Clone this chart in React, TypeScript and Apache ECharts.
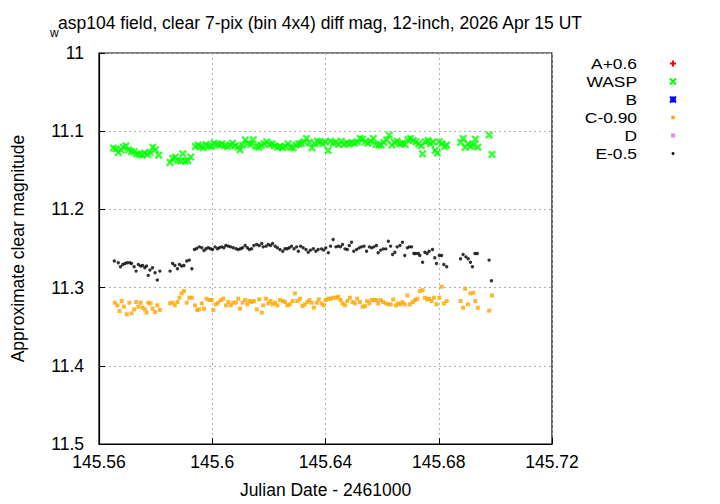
import React, { useEffect, useRef } from "react";
import * as echarts from "echarts";

const TITLE_SUB = "w";
const TITLE_MAIN = "asp104 field, clear 7-pix (bin 4x4) diff mag, 12-inch, 2026 Apr 15 UT";
const X_NAME = "Julian Date - 2461000";
const Y_NAME = "Approximate clear magnitude";
const LEGEND_NAMES = ["A+0.6", "WASP", "B", "C-0.90", "D", "E-0.5"];
const X_MIN = 145.56;
const X_MAX = 145.72;
const X_STEP = 0.04;
const Y_MIN = 11;
const Y_MAX = 11.5;
const Y_STEP = 0.1;

const seriesA: number[][] = [];
const seriesB: number[][] = [];
const seriesD: number[][] = [];

const seriesWASP: number[][] = [
  [145.5651, 11.1216], [145.566, 11.1229], [145.5668, 11.1272], [145.5677, 11.1238], [145.5686, 11.1204],
  [145.5695, 11.1187], [145.5705, 11.1238], [145.5714, 11.1259], [145.5724, 11.1263], [145.5733, 11.1289],
  [145.5742, 11.1297], [145.5752, 11.1306], [145.5761, 11.128], [145.5771, 11.1297], [145.578, 11.1272],
  [145.579, 11.1204], [145.5799, 11.1238], [145.5811, 11.1306],
  [145.5851, 11.1399], [145.586, 11.1348], [145.587, 11.1331], [145.5879, 11.1374], [145.5889, 11.1382],
  [145.5896, 11.1289], [145.5905, 11.1382], [145.5914, 11.1374], [145.5924, 11.1331],
  [145.594, 11.1195], [145.595, 11.1178], [145.5959, 11.1195], [145.5968, 11.1212], [145.5978, 11.117],
  [145.5987, 11.1187], [145.5997, 11.1195], [145.6006, 11.1153], [145.6016, 11.117], [145.6025, 11.1178],
  [145.6034, 11.1161], [145.6044, 11.1187], [145.6053, 11.1195], [145.6063, 11.1178], [145.6072, 11.1153],
  [145.6081, 11.1187], [145.6091, 11.1204], [145.6098, 11.1238], [145.6107, 11.1178], [145.6117, 11.111],
  [145.6126, 11.1153], [145.6136, 11.117], [145.6145, 11.111], [145.6155, 11.1195], [145.6164, 11.1204],
  [145.6173, 11.1178], [145.6183, 11.1161], [145.6192, 11.1136], [145.6202, 11.117], [145.6211, 11.1161],
  [145.622, 11.1187], [145.623, 11.1204], [145.6239, 11.1195], [145.6249, 11.1212], [145.6258, 11.1195],
  [145.6268, 11.1161], [145.6277, 11.1204], [145.6286, 11.1212], [145.6296, 11.1178], [145.6305, 11.1161],
  [145.6315, 11.1153], [145.6324, 11.1136], [145.6333, 11.1093], [145.6343, 11.1144], [145.6352, 11.1212],
  [145.6362, 11.1161], [145.6371, 11.1127], [145.638, 11.1136], [145.639, 11.1161], [145.6399, 11.1136],
  [145.6409, 11.1246], [145.6418, 11.1127], [145.6427, 11.1153], [145.6437, 11.1144], [145.6446, 11.117],
  [145.6456, 11.1127], [145.6465, 11.117], [145.6475, 11.1153], [145.6484, 11.1161], [145.6493, 11.1144],
  [145.6503, 11.1153], [145.6512, 11.1136], [145.6522, 11.1093], [145.6531, 11.1102], [145.6541, 11.1136],
  [145.655, 11.1153], [145.6559, 11.1127], [145.6569, 11.1093], [145.6578, 11.117], [145.6588, 11.1178],
  [145.6597, 11.1178], [145.6606, 11.1144], [145.6616, 11.111], [145.6625, 11.105], [145.6635, 11.1178],
  [145.6644, 11.1144], [145.6653, 11.1127], [145.6663, 11.1161], [145.6672, 11.1153], [145.6682, 11.117],
  [145.6691, 11.111], [145.67, 11.1093], [145.671, 11.1119], [145.6719, 11.1136], [145.6729, 11.1161],
  [145.6738, 11.1187], [145.6743, 11.1289], [145.6752, 11.1136], [145.6762, 11.1119], [145.6771, 11.1161],
  [145.678, 11.1136], [145.6787, 11.1246], [145.6795, 11.128], [145.6802, 11.1136], [145.6811, 11.1161],
  [145.682, 11.1195], [145.6828, 11.1178],
  [145.6877, 11.1144], [145.6886, 11.1093], [145.6893, 11.1204], [145.6903, 11.1161], [145.6912, 11.1195],
  [145.6922, 11.1178], [145.6929, 11.1102], [145.6938, 11.1204],
  [145.6978, 11.105], [145.6988, 11.1297],
];

const seriesC: number[][] = [
  [145.5656, 11.3193], [145.5665, 11.3227], [145.5672, 11.3299], [145.568, 11.3171], [145.5688, 11.3244],
  [145.5698, 11.3341], [145.5707, 11.3193], [145.5715, 11.3329], [145.5724, 11.3278], [145.5731, 11.3184],
  [145.5739, 11.3244], [145.5747, 11.3193], [145.5754, 11.3256], [145.5762, 11.3278], [145.5768, 11.332],
  [145.5774, 11.3193], [145.5782, 11.3201], [145.5789, 11.3269], [145.5798, 11.3312], [145.5806, 11.3227],
  [145.5815, 11.3286],
  [145.5851, 11.3201], [145.586, 11.3193], [145.5868, 11.3227], [145.5877, 11.3184], [145.5884, 11.3129],
  [145.5892, 11.3074], [145.59, 11.3044], [145.591, 11.3193], [145.5919, 11.3129], [145.5928, 11.3129],
  [145.5939, 11.3227], [145.5947, 11.3286], [145.5954, 11.3278], [145.5963, 11.3201], [145.5971, 11.3269],
  [145.598, 11.3142], [145.599, 11.3159], [145.5998, 11.3159], [145.6004, 11.3286], [145.6013, 11.3214],
  [145.6021, 11.3193], [145.603, 11.3159], [145.6039, 11.3142], [145.6048, 11.3227], [145.6057, 11.3184],
  [145.6065, 11.3227], [145.6074, 11.3193], [145.6084, 11.3193], [145.6092, 11.3142], [145.6098, 11.3269],
  [145.6107, 11.3193], [145.6116, 11.3159], [145.6124, 11.3214], [145.6131, 11.3171], [145.6139, 11.3184],
  [145.6147, 11.3171], [145.6157, 11.3278], [145.6166, 11.315], [145.6175, 11.332], [145.618, 11.3227],
  [145.619, 11.3142], [145.6198, 11.3201], [145.6206, 11.3171], [145.6213, 11.3214], [145.6222, 11.3193],
  [145.623, 11.3227], [145.6239, 11.3159], [145.6249, 11.3171], [145.6257, 11.3184], [145.6265, 11.3227],
  [145.6274, 11.3214], [145.6284, 11.3171], [145.6292, 11.3074], [145.63, 11.3171], [145.631, 11.3142],
  [145.6319, 11.3235], [145.6327, 11.3214], [145.6336, 11.3184], [145.6343, 11.3159], [145.6351, 11.3193],
  [145.6359, 11.3256], [145.6369, 11.3193], [145.6376, 11.315],
  [145.6386, 11.3202], [145.6394, 11.3227], [145.6401, 11.3159], [145.641, 11.3142], [145.6418, 11.3142],
  [145.6427, 11.3129], [145.6437, 11.3129], [145.6445, 11.3117], [145.6453, 11.3159], [145.646, 11.3202],
  [145.6469, 11.3227], [145.6477, 11.3172], [145.6486, 11.3129], [145.6496, 11.3185], [145.6504, 11.3202],
  [145.6512, 11.3142], [145.6522, 11.3185], [145.6531, 11.3244], [145.6539, 11.3236], [145.6547, 11.3172],
  [145.6555, 11.3202], [145.6563, 11.3159], [145.6571, 11.3159], [145.658, 11.3159], [145.6586, 11.3202],
  [145.6595, 11.3159], [145.6604, 11.3185], [145.6613, 11.3202], [145.6622, 11.3214], [145.663, 11.3214],
  [145.6639, 11.3151], [145.6649, 11.3227], [145.6657, 11.3202], [145.6665, 11.3214], [145.6672, 11.3185],
  [145.668, 11.3214], [145.6689, 11.31], [145.6698, 11.3214], [145.6708, 11.3185], [145.6716, 11.3159],
  [145.6724, 11.3142], [145.6733, 11.3044], [145.6743, 11.3032], [145.6751, 11.3129], [145.6759, 11.3151],
  [145.6766, 11.3142], [145.6775, 11.3172], [145.6783, 11.3129], [145.6792, 11.3214], [145.6802, 11.3129],
  [145.681, 11.2989], [145.6818, 11.3202], [145.6828, 11.3172],
  [145.6877, 11.3172], [145.6886, 11.3257], [145.6893, 11.3015], [145.6903, 11.3214], [145.6912, 11.3074],
  [145.6922, 11.3066], [145.6929, 11.3172], [145.6938, 11.3257],
  [145.6978, 11.3295], [145.6988, 11.31],
];

const seriesE: number[][] = [
  [145.5654, 11.2661], [145.5668, 11.2683], [145.5676, 11.2734], [145.5684, 11.2704], [145.5692, 11.2691],
  [145.57, 11.2683], [145.5709, 11.2683], [145.5715, 11.2691], [145.5724, 11.2734], [145.5731, 11.2789],
  [145.5739, 11.2704], [145.5747, 11.2725], [145.5754, 11.2717], [145.5762, 11.2746], [145.5768, 11.2725],
  [145.5774, 11.2844], [145.578, 11.2776], [145.5789, 11.2746], [145.5798, 11.281], [145.5806, 11.2904],
  [145.5815, 11.2789],
  [145.5851, 11.2789], [145.586, 11.2691], [145.5868, 11.2717], [145.5877, 11.2759], [145.5884, 11.2704],
  [145.5892, 11.2725], [145.59, 11.2717], [145.591, 11.2661], [145.5919, 11.2649], [145.5928, 11.2759],
  [145.5937, 11.2513], [145.5945, 11.25], [145.5954, 11.2479], [145.5963, 11.2491], [145.5971, 11.2525],
  [145.5978, 11.2504], [145.5986, 11.2491], [145.5994, 11.2504], [145.6001, 11.2513], [145.601, 11.2479],
  [145.6018, 11.2504], [145.6025, 11.2491], [145.6033, 11.2479], [145.6041, 11.2491], [145.6048, 11.2462],
  [145.6057, 11.247], [145.6065, 11.2479], [145.6074, 11.2491], [145.6084, 11.2504], [145.6092, 11.2513],
  [145.61, 11.2504], [145.6107, 11.2491], [145.6116, 11.2462], [145.6124, 11.2491], [145.6131, 11.2513],
  [145.6139, 11.2504], [145.6147, 11.2462], [145.6157, 11.2449], [145.6166, 11.2462], [145.6175, 11.2436],
  [145.618, 11.2479], [145.619, 11.247], [145.6198, 11.2449], [145.6206, 11.2462], [145.6213, 11.2436],
  [145.6222, 11.247], [145.623, 11.2491], [145.6239, 11.2513], [145.6249, 11.2534], [145.6257, 11.2504],
  [145.6265, 11.2504], [145.6272, 11.2491], [145.628, 11.247], [145.6289, 11.2504], [145.6298, 11.2479],
  [145.6304, 11.2534], [145.6312, 11.247], [145.6321, 11.2491], [145.6331, 11.2513], [145.6339, 11.2547],
  [145.6347, 11.2521], [145.6357, 11.2504], [145.6366, 11.2534], [145.6374, 11.2513],
  [145.6386, 11.2505], [145.6394, 11.2521], [145.6401, 11.2492], [145.641, 11.2555], [145.6418, 11.247],
  [145.6427, 11.2385], [145.6437, 11.2479], [145.6445, 11.247], [145.6453, 11.2479], [145.646, 11.2449],
  [145.6469, 11.2505], [145.6477, 11.2513], [145.6484, 11.2462], [145.6492, 11.2419], [145.65, 11.2534],
  [145.651, 11.2513], [145.6519, 11.2492], [145.6527, 11.2479], [145.6536, 11.247], [145.6545, 11.2534],
  [145.6555, 11.2479], [145.6563, 11.2492], [145.6571, 11.2479], [145.658, 11.2462], [145.6586, 11.2555],
  [145.6595, 11.2521], [145.6604, 11.2505], [145.6613, 11.2505], [145.6622, 11.2407], [145.663, 11.247],
  [145.6637, 11.2577], [145.6645, 11.2547], [145.6653, 11.2479], [145.6663, 11.2462], [145.6672, 11.2419],
  [145.668, 11.259], [145.6689, 11.2492], [145.6696, 11.2479], [145.6704, 11.2479], [145.6712, 11.2564],
  [145.6719, 11.2564], [145.6728, 11.2564], [145.6733, 11.259], [145.6743, 11.2675], [145.6751, 11.2547],
  [145.6759, 11.2564], [145.6766, 11.2534], [145.6778, 11.2513], [145.6786, 11.2619], [145.6792, 11.2692],
  [145.6802, 11.259], [145.681, 11.259], [145.6818, 11.2704], [145.6828, 11.2734],
  [145.6877, 11.2632], [145.6886, 11.2577], [145.6896, 11.2607], [145.6904, 11.2632], [145.6912, 11.2675],
  [145.6919, 11.2734], [145.6928, 11.2564], [145.6936, 11.2564],
  [145.6978, 11.2649], [145.6986, 11.2912],
];

const FONT = "'Liberation Sans', Arial, Helvetica, sans-serif";
const FS = 17.5;
const LEGEND_FS = 14.5;
const X_SHAPE = "path://M0,2L2,0L5,3L8,0L10,2L7,5L10,8L8,10L5,7L2,10L0,8L3,5Z";

const fmt = (v: number) => String(Number(v.toFixed(3)));

export default function App() {
  const ref = useRef<HTMLDivElement>(null);
  useEffect(() => {
    if (!ref.current) return;
    const chart = echarts.init(ref.current, undefined, { renderer: "svg" });

    const legendX = 637;
    const symX = 673;
    const rowY = [63.5, 81.5, 99.5, 117.5, 135.5, 153.5];
    const legendTexts = LEGEND_NAMES.map((n, i) => ({
      type: "text",
      x: legendX,
      y: rowY[i],
      scaleX: 1.2,
      scaleY: 1.05,
      style: { text: n, fontSize: LEGEND_FS, fontFamily: FONT, fill: "#000", align: "right", verticalAlign: "middle" },
    }));
    const ln = (x1: number, y1: number, x2: number, y2: number, c: string) => ({
      type: "line",
      shape: { x1, y1, x2, y2 },
      style: { stroke: c, lineWidth: 2 },
    });
    const s = 3;
    const legendMarks: any[] = [
      ln(symX - s, rowY[0], symX + s, rowY[0], "#ff0000"),
      ln(symX, rowY[0] - s, symX, rowY[0] + s, "#ff0000"),
      ln(symX - s, rowY[1] - s, symX + s, rowY[1] + s, "#00ff00"),
      ln(symX - s, rowY[1] + s, symX + s, rowY[1] - s, "#00ff00"),
      ln(symX - s, rowY[2], symX + s, rowY[2], "#0000ff"),
      ln(symX, rowY[2] - s, symX, rowY[2] + s, "#0000ff"),
      ln(symX - s, rowY[2] - s, symX + s, rowY[2] + s, "#0000ff"),
      ln(symX - s, rowY[2] + s, symX + s, rowY[2] - s, "#0000ff"),
      { type: "rect", shape: { x: symX - 1.7, y: rowY[3] - 1.7, width: 3.4, height: 3.4 }, style: { fill: "#ffa500" } },
      { type: "rect", shape: { x: symX - 2, y: rowY[4] - 2, width: 4, height: 4 }, style: { fill: "#ee82ee" } },
      { type: "circle", shape: { cx: symX, cy: rowY[5], r: 1.5 }, style: { fill: "#000" } },
    ];

    const option: any = {
      animation: false,
      textStyle: { fontFamily: FONT },
      grid: { left: 99, right: 168, top: 53, bottom: 59, show: true, borderColor: "#000", borderWidth: 1.2, backgroundColor: "transparent" },
      xAxis: {
        type: "value",
        min: X_MIN,
        max: X_MAX,
        interval: X_STEP,
        name: X_NAME,
        nameLocation: "middle",
        nameGap: 37,
        nameTextStyle: { fontSize: FS, color: "#000", fontFamily: FONT },
        axisLine: { show: true, onZero: false, lineStyle: { color: "#000", width: 1.2 } },
        axisTick: { show: true, inside: true, length: 6, lineStyle: { color: "#000" } },
        axisLabel: { fontSize: FS, color: "#000", margin: 9, fontFamily: FONT, formatter: fmt },
        splitLine: { show: true, lineStyle: { color: "#b0b0b0", type: [2, 3], width: 1 } },
      },
      yAxis: {
        type: "value",
        inverse: true,
        min: Y_MIN,
        max: Y_MAX,
        interval: Y_STEP,
        name: Y_NAME,
        nameLocation: "middle",
        nameGap: 72,
        nameRotate: 90,
        nameTextStyle: { fontSize: FS, color: "#000", fontFamily: FONT },
        axisLine: { show: true, onZero: false, lineStyle: { color: "#000", width: 1.2 } },
        axisTick: { show: true, inside: true, length: 6, lineStyle: { color: "#000" } },
        axisLabel: { fontSize: FS, color: "#000", margin: 15, fontFamily: FONT, formatter: fmt },
        splitLine: { show: true, lineStyle: { color: "#b0b0b0", type: [2, 3], width: 1 } },
      },
      series: [
        { name: LEGEND_NAMES[0], type: "scatter", data: seriesA, symbol: "path://M4,0H6V4H10V6H6V10H4V6H0V4H4Z", symbolSize: 7, itemStyle: { color: "#ff0000" } },
        { name: LEGEND_NAMES[1], type: "scatter", data: seriesWASP, symbol: X_SHAPE, symbolSize: 8, itemStyle: { color: "#00ff00" } },
        { name: LEGEND_NAMES[2], type: "scatter", data: seriesB, symbolSize: 7, itemStyle: { color: "#0000ff" } },
        { name: LEGEND_NAMES[3], type: "scatter", data: seriesC, symbol: "rect", symbolSize: 4, itemStyle: { color: "#ffa500" } },
        { name: LEGEND_NAMES[4], type: "scatter", data: seriesD, symbol: "rect", symbolSize: 4, itemStyle: { color: "#ee82ee" } },
        { name: LEGEND_NAMES[5], type: "scatter", data: seriesE, symbol: "circle", symbolSize: 3.4, itemStyle: { color: "#000" } },
      ],
      graphic: [
        { type: "text", x: 50, y: 33, style: { text: TITLE_SUB, fontSize: 12, fontFamily: FONT, fill: "#000", align: "left", verticalAlign: "middle" } },
        { type: "text", x: 58, y: 23, style: { text: TITLE_MAIN, fontSize: FS, fontFamily: FONT, fill: "#000", align: "left", verticalAlign: "middle" } },
        ...legendTexts,
        ...legendMarks,
      ],
    };
    chart.setOption(option);
    return () => chart.dispose();
  }, []);
  return <div ref={ref} style={{ width: 720, height: 504, position: "absolute", left: 0, top: 0 }} />;
}
